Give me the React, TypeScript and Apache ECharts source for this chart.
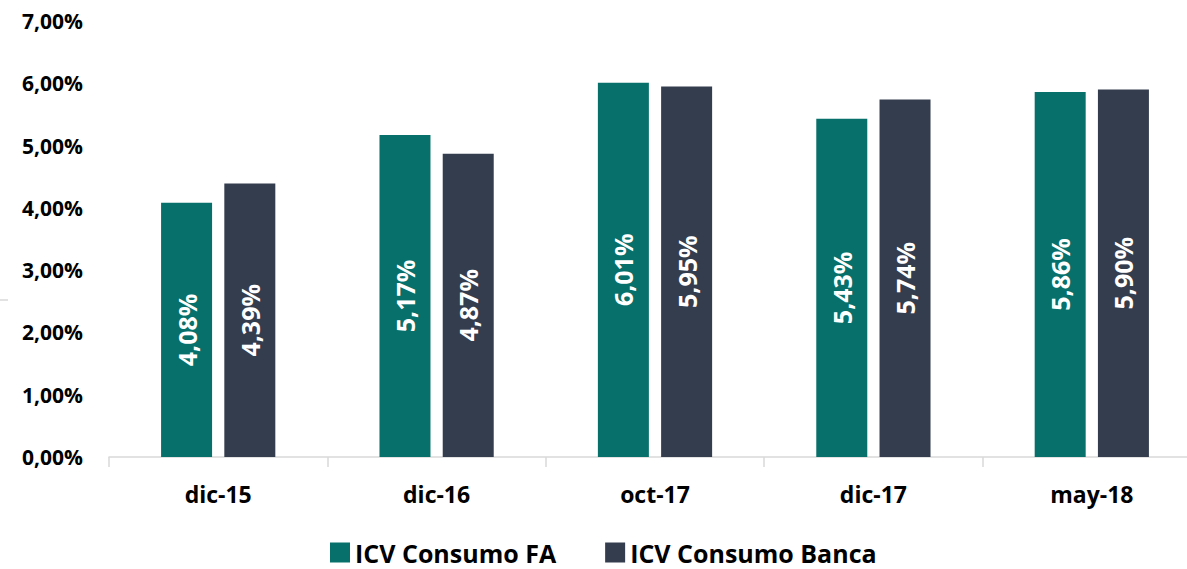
import React, { useEffect, useRef } from "react";
import * as echarts from "echarts";

const categories = ["dic-15", "dic-16", "oct-17", "dic-17", "may-18"];
const seriesNames = ["ICV Consumo FA", "ICV Consumo Banca"];
const valuesFA = [4.08, 5.17, 6.01, 5.43, 5.86];
const valuesBanca = [4.39, 4.87, 5.95, 5.74, 5.9];
const colors = ["#07706B", "#333D4E"];

const FONT = "'Open Sans', 'Noto Sans', sans-serif";
const fmt = (v: number) => v.toFixed(2).replace(".", ",") + "%";

export default function App() {
  const ref = useRef<HTMLDivElement>(null);
  useEffect(() => {
    if (!ref.current) return;
    const chart = echarts.init(ref.current, null, { renderer: "svg" });
    const label = {
      show: true,
      position: "inside",
      rotate: 90,
      color: "#ffffff",
      fontFamily: FONT,
      fontWeight: "bold",
      fontSize: 25,
      formatter: (p: any) => fmt(p.value),
    };
    chart.setOption({
      animation: false,
      backgroundColor: "#ffffff",
      textStyle: { fontFamily: FONT },
      grid: { left: 109, width: 1092, top: 21, height: 436, containLabel: false, outerBoundsMode: "none" },
      legend: {
        data: seriesNames,
        left: 330,
        top: 540,
        itemWidth: 20,
        itemHeight: 20,
        itemGap: 49,
        icon: "rect",
        padding: 0,
        textStyle: { fontFamily: FONT, fontWeight: "bold", fontSize: 25, lineHeight: 24, color: "#000" },
      },
      xAxis: {
        type: "category",
        data: categories,
        axisLine: { show: true, lineStyle: { color: "#d9d9d9", width: 1.5 } },
        axisTick: { show: true, length: 10, lineStyle: { color: "#d9d9d9", width: 1.5 } },
        axisLabel: { margin: 25, fontFamily: FONT, fontWeight: "bold", fontSize: 23, color: "#000" },
      },
      yAxis: {
        type: "value",
        min: 0,
        max: 7,
        interval: 1,
        axisLine: { show: false },
        axisTick: { show: false },
        splitLine: { show: false },
        axisLabel: {
          margin: 26,
          fontFamily: FONT,
          fontWeight: "bold",
          fontSize: 21,
          color: "#000",
          formatter: (v: number) => fmt(v),
        },
      },
      series: [
        { name: seriesNames[0], type: "bar", data: valuesFA, barWidth: 51, barGap: "24%", itemStyle: { color: colors[0] }, label },
        { name: seriesNames[1], type: "bar", data: valuesBanca, barWidth: 51, barGap: "24%", itemStyle: { color: colors[1] }, label },
      ],
      graphic: [
        { type: "line", shape: { x1: 0, y1: 300, x2: 8, y2: 300 }, style: { stroke: "#d9d9d9", lineWidth: 1.5 } },
      ],
    });
    return () => chart.dispose();
  }, []);
  return (
    <div
      ref={ref}
      style={{ position: "fixed", left: 0, top: 0, width: 1187, height: 569 }}
    />
  );
}
